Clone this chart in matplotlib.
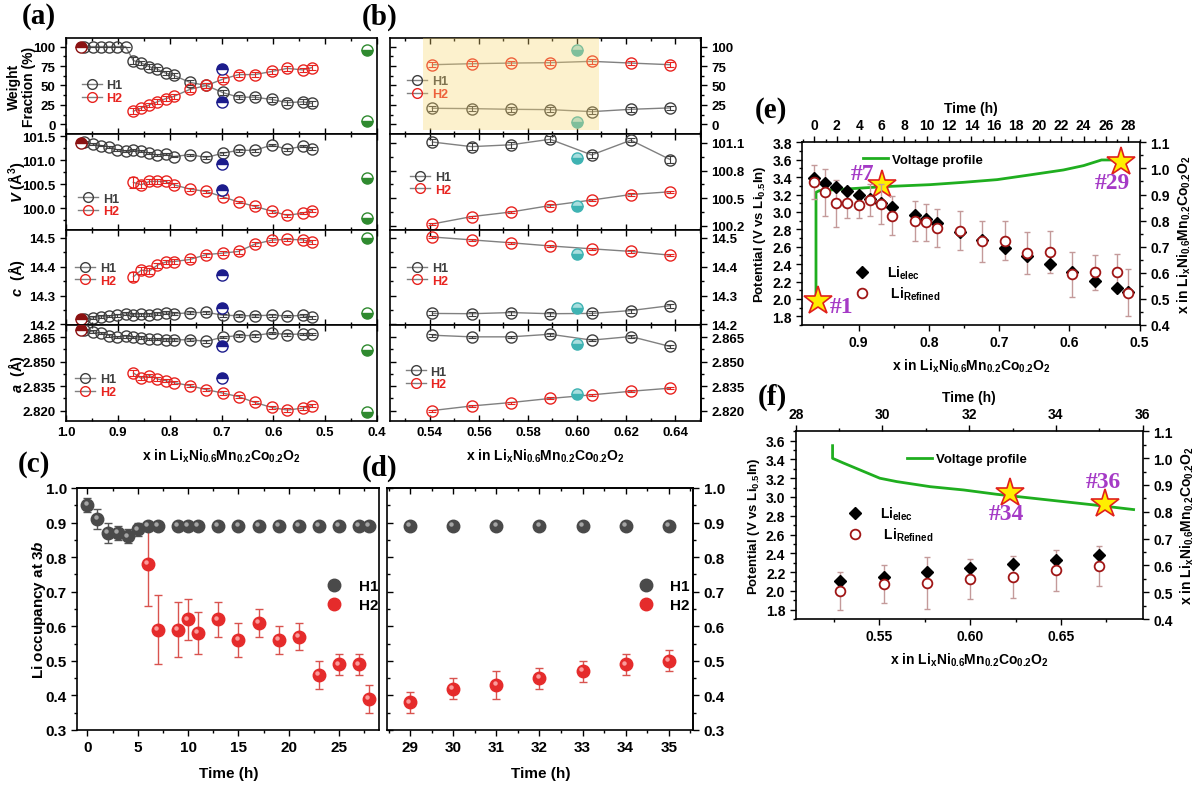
import numpy as np
import matplotlib.pyplot as plt
from matplotlib.ticker import MultipleLocator, FormatStrFormatter, NullFormatter
from matplotlib.transforms import offset_copy
from matplotlib.lines import Line2D

plt.rcParams['font.family'] = 'Liberation Sans'
plt.rcParams['font.weight'] = 'bold'
plt.rcParams['axes.labelweight'] = 'bold'
plt.rcParams['font.size'] = 9.5
plt.rcParams['mathtext.fontset'] = 'custom'
plt.rcParams['mathtext.rm'] = 'Liberation Sans:bold'
plt.rcParams['mathtext.bf'] = 'Liberation Sans:bold'
plt.rcParams['mathtext.it'] = 'Liberation Sans:bold:italic'
plt.rcParams['mathtext.default'] = 'bf'
plt.rcParams['axes.linewidth'] = 1.2

# ---------------- data (a) ----------------
xa = [0.965, 0.948, 0.932, 0.917, 0.901, 0.885, 0.870, 0.855, 0.839, 0.824, 0.808,
      0.792, 0.761, 0.729, 0.698, 0.667, 0.636, 0.603, 0.573, 0.543, 0.526]
xa2 = [0.870, 0.855, 0.839, 0.824, 0.808, 0.792, 0.761, 0.729, 0.698, 0.667, 0.636,
       0.603, 0.573, 0.543, 0.526]

wf_h1 = [100, 100, 100, 100, 100, 100, 82, 79, 74, 71, 66, 63, 54, 50, 41, 35, 35, 32, 28, 29, 27]
wf_h1_err = [0, 0, 0, 0, 0, 0, 4, 3, 3, 3, 3, 3, 3, 3, 3, 3, 3, 3, 3, 3, 3]
wf_h2 = [17, 21, 25, 29, 33, 36, 45, 50, 58, 64, 64, 68, 72, 70, 73]
wf_h2_err = [4, 3, 3, 3, 3, 3, 3, 3, 3, 3, 3, 3, 3, 3, 3]

v_h1 = [101.38, 101.34, 101.31, 101.28, 101.22, 101.19, 101.21, 101.19, 101.15, 101.11, 101.13,
        101.08, 101.12, 101.06, 101.15, 101.21, 101.21, 101.32, 101.23, 101.30, 101.24]
v_h1_err = [0.02, 0.02, 0.02, 0.02, 0.02, 0.02, 0.02, 0.02, 0.02, 0.02, 0.02,
            0.02, 0.02, 0.03, 0.03, 0.03, 0.03, 0.03, 0.03, 0.03, 0.03]
v_h2 = [100.54, 100.49, 100.56, 100.56, 100.56, 100.49, 100.40, 100.35, 100.24, 100.13, 100.04,
        99.94, 99.85, 99.90, 99.95]
v_h2_err = [0.12, 0.07, 0.05, 0.05, 0.04, 0.04, 0.03, 0.03, 0.03, 0.03, 0.03, 0.03, 0.03, 0.03, 0.03]

c_h1 = [14.217, 14.223, 14.227, 14.229, 14.232, 14.237, 14.233, 14.235, 14.233, 14.237, 14.240,
        14.237, 14.240, 14.242, 14.232, 14.230, 14.230, 14.232, 14.229, 14.231, 14.224]
c_h1_err = [0.005] * 21
c_h2 = [14.365, 14.388, 14.385, 14.405, 14.416, 14.418, 14.425, 14.442, 14.447, 14.453, 14.478,
        14.492, 14.495, 14.493, 14.485]
c_h2_err = [0.016, 0.012, 0.009, 0.008, 0.008, 0.008, 0.007, 0.007, 0.007, 0.008, 0.007,
            0.006, 0.006, 0.006, 0.006]

a_h1 = [2.8691, 2.8683, 2.8675, 2.8660, 2.8650, 2.8656, 2.8652, 2.8648, 2.8640, 2.8638, 2.8634,
        2.8634, 2.8634, 2.8625, 2.8650, 2.8660, 2.8660, 2.8675, 2.8666, 2.8670, 2.8670]
a_h1_err = [0.0008] * 21
a_h2 = [2.8431, 2.8398, 2.8415, 2.8394, 2.8384, 2.8372, 2.8353, 2.8329, 2.8308, 2.8286, 2.8251,
        2.8220, 2.8204, 2.8216, 2.8231]
a_h2_err = [0.0018, 0.0012, 0.001, 0.001, 0.001, 0.001, 0.001, 0.001, 0.001, 0.001, 0.001,
            0.001, 0.001, 0.001, 0.001]

# reference points (pristine, 0.70 and 0.42)
x_pristine = 0.971
pristine = [100, 101.36, 14.2196, 2.8691]
x_blue = 0.70
blue = [[71, 29], [100.93, 100.375], [14.371, 14.258], [2.8593, 2.8400]]
x_green = 0.42
green = [[96, 4], [100.625, 99.79], [14.498, 14.238], [2.8574, 2.8194]]

# ---------------- data (b) ----------------
xb = [0.541, 0.557, 0.573, 0.589, 0.606, 0.622, 0.638]
wf_b_h1 = [20.7, 20.3, 19.4, 19.0, 16.4, 19.4, 21.2]
wf_b_h2 = [76.7, 78.0, 78.8, 79.3, 81.0, 78.8, 76.7]
v_b_h1 = [101.11, 101.06, 101.08, 101.14, 100.97, 101.13, 100.92]
v_b_h1_err = [0.035, 0.035, 0.035, 0.035, 0.035, 0.025, 0.035]
v_b_h2 = [100.22, 100.30, 100.35, 100.42, 100.48, 100.54, 100.57]
c_b_h1 = [14.238, 14.237, 14.241, 14.237, 14.238, 14.248, 14.265]
c_b_h2 = [14.503, 14.493, 14.483, 14.472, 14.462, 14.453, 14.440]
a_b_h1 = [2.8662, 2.8652, 2.8652, 2.8668, 2.8632, 2.8654, 2.8593]
a_b_h2 = [2.8201, 2.8229, 2.8250, 2.8275, 2.8297, 2.8319, 2.8338]
x_teal = 0.60
teal = [[96, 3], [100.94, 100.42], [14.445, 14.258], [2.8607, 2.8305]]

# ---------------- data (c), (d) ----------------
tc_h1 = [0, 1, 2, 3, 4, 5, 6, 7, 9, 10, 11, 13, 15, 17, 19, 21, 23, 25, 27, 28]
occ_h1 = [0.95, 0.91, 0.87, 0.87, 0.86, 0.88, 0.89, 0.89, 0.89, 0.89, 0.89, 0.89, 0.89, 0.89,
          0.89, 0.89, 0.89, 0.89, 0.89, 0.89]
occ_h1_err = [0.02, 0.03, 0.03, 0.02, 0.02, 0.02, 0, 0, 0, 0, 0, 0, 0, 0, 0, 0, 0, 0, 0, 0]
tc_h2 = [6, 7, 9, 10, 11, 13, 15, 17, 19, 21, 23, 25, 27, 28]
occ_h2 = [0.78, 0.59, 0.59, 0.62, 0.58, 0.62, 0.56, 0.61, 0.56, 0.57, 0.46, 0.49, 0.49, 0.39]
occ_h2_err = [0.12, 0.10, 0.08, 0.06, 0.06, 0.05, 0.05, 0.04, 0.04, 0.04, 0.04, 0.03, 0.03, 0.04]

td = [29, 30, 31, 32, 33, 34, 35]
occ_d_h1 = [0.89, 0.89, 0.89, 0.89, 0.89, 0.89, 0.89]
occ_d_h2 = [0.38, 0.42, 0.43, 0.45, 0.47, 0.49, 0.50]
occ_d_h2_err = [0.03, 0.03, 0.04, 0.03, 0.03, 0.03, 0.03]

# ---------------- data (e) ----------------
xe = [0.964, 0.948, 0.932, 0.916, 0.900, 0.884, 0.868, 0.852, 0.820, 0.804, 0.788, 0.756,
      0.724, 0.692, 0.660, 0.628, 0.596, 0.564, 0.532, 0.516]
li_elec_e = [0.962, 0.944, 0.929, 0.914, 0.898, 0.883, 0.868, 0.852, 0.822, 0.806, 0.790, 0.758,
             0.727, 0.694, 0.663, 0.634, 0.602, 0.570, 0.541, 0.525]
li_ref_e = [0.949, 0.908, 0.867, 0.867, 0.859, 0.879, 0.865, 0.819, 0.799, 0.793, 0.770, 0.762,
            0.721, 0.723, 0.675, 0.681, 0.594, 0.602, 0.604, 0.523]
li_ref_e_err = [0.065, 0.09, 0.09, 0.056, 0.05, 0.06, 0.077, 0.074, 0.077, 0.07, 0.073, 0.074,
                0.079, 0.075, 0.08, 0.08, 0.087, 0.066, 0.069, 0.09]
volt_t_e = [0.15, 0.15, 0.45, 6.15, 10.3, 13.3, 16.3, 19.2, 22.2, 24.0, 25.6, 27.3]
volt_v_e = [1.96, 3.225, 3.244, 3.29, 3.313, 3.34, 3.371, 3.425, 3.482, 3.532, 3.597, 3.597]
star_t_e = [0.3, 6.06, 27.3]
star_v_e = [1.98, 3.31, 3.57]
star_lab_e = ['#1', '#7', '#29']

# ---------------- data (f) ----------------
xf = [0.5286, 0.5524, 0.5762, 0.5999, 0.6238, 0.6473, 0.6707]
li_elec_f = [0.540, 0.557, 0.5735, 0.589, 0.604, 0.620, 0.637]
li_ref_f = [0.505, 0.531, 0.536, 0.548, 0.557, 0.581, 0.597]
li_ref_f_err = [0.072, 0.072, 0.097, 0.075, 0.077, 0.075, 0.075]
volt_t_f = [28.85, 28.85, 29.10, 29.94, 30.33, 31.10, 31.87, 32.63, 33.40, 34.17, 34.94, 35.79]
volt_v_f = [3.547, 3.412, 3.362, 3.20, 3.164, 3.11, 3.075, 3.029, 2.99, 2.951, 2.912, 2.866]
star_t_f = [32.94, 35.12]
star_v_f = [3.043, 2.93]
star_lab_f = ['#34', '#36']

# ---------------- styles ----------------
C_H1 = '#3f3f3f'
C_H2 = '#e8231f'
C_LINE = '#808080'
C_GREEN = '#1fae1f'
C_PURPLE = '#a53ac6'
XLAB = r'x in Li$_x$Ni$_{0.6}$Mn$_{0.2}$Co$_{0.2}$O$_2$'

fig = plt.figure(figsize=(12, 8.04), dpi=100)


def rect(x0, x1, y0, y1):
    return [x0 / 1200, 1 - y1 / 804, (x1 - x0) / 1200, (y1 - y0) / 804]


def phase_row(ax, x1, y1, e1, x2, y2, e2):
    ax.plot(x1, y1, '-', color=C_LINE, lw=1, zorder=2)
    ax.plot(x2, y2, '-', color=C_LINE, lw=1, zorder=2)
    ax.errorbar(x1, y1, yerr=e1, fmt='none', ecolor=C_H1, elinewidth=0.8, capsize=3,
                capthick=0.8, zorder=3)
    ax.errorbar(x2, y2, yerr=e2, fmt='none', ecolor=C_H2, elinewidth=0.8, capsize=3,
                capthick=0.8, zorder=3)
    ax.plot(x1, y1, 'o', ms=8, mfc='none', mec=C_H1, mew=1.0, zorder=4)
    ax.plot(x2, y2, 'o', ms=8, mfc='none', mec=C_H2, mew=1.0, zorder=4)


def half(ax, x, ys, col, style):
    for y in ys:
        ax.plot(x, y, 'o', ms=8, fillstyle=style, mfc=col, mec=col, mfcalt='white', mew=1.0,
                zorder=5)


def phase_legend(ax, xa_, ya_):
    hs = [Line2D([], [], color=C_LINE, lw=1, marker='o', ms=7, mfc='none', mec=C_H1),
          Line2D([], [], color=C_LINE, lw=1, marker='o', ms=7, mfc='none', mec=C_H2)]
    lg = ax.legend(hs, ['H1', 'H2'], loc='center left', bbox_to_anchor=(xa_, ya_), frameon=False,
                   handlelength=1.6, handletextpad=0.4, labelspacing=0.05, fontsize=9,
                   borderpad=0, borderaxespad=0)
    lg.get_texts()[0].set_color(C_H1)
    lg.get_texts()[1].set_color(C_H2)


ylims = [(-12, 111), (99.556, 101.556), (14.197, 14.529), (2.8137, 2.8723)]
ylims_b = [(-12, 111), (100.16, 101.2), (14.197, 14.529), (2.8137, 2.8723)]
ymaj = [25, 0.5, 0.1, 0.015]
ymaj_b = [25, 0.3, 0.1, 0.015]
yfmt = ['%d', '%.1f', '%.1f', '%.3f']
ylabels = ['Weight\nFraction (%)', r'$\mathit{V}$ (Å$^3$)', r'$\mathit{c}$  (Å)', r'$\mathit{a}$  (Å)']
ylab_x = [-0.096, -0.125, -0.125, -0.125]
leg_a = [(0.05, 0.44), (0.04, 0.255), (0.03, 0.53), (0.03, 0.37)]
leg_b = [(0.055, 0.48), (0.065, 0.48), (0.055, 0.53), (0.05, 0.45)]

data_a = [(wf_h1, wf_h1_err, wf_h2, wf_h2_err), (v_h1, v_h1_err, v_h2, v_h2_err),
          (c_h1, c_h1_err, c_h2, c_h2_err), (a_h1, a_h1_err, a_h2, a_h2_err)]
data_b = [(wf_b_h1, 3, wf_b_h2, 3), (v_b_h1, v_b_h1_err, v_b_h2, 0.012),
          (c_b_h1, 0.007, c_b_h2, 0.004), (a_b_h1, 0.0008, a_b_h2, 0.0006)]

top, rh = 39, 95.75
for i in range(4):
    # ---- (a) ----
    ax = fig.add_axes(rect(66, 377, top + i * rh, top + (i + 1) * rh))
    h1, e1, h2, e2 = data_a[i]
    phase_row(ax, xa, h1, e1, xa2, h2, e2)
    ax.plot(x_pristine, pristine[i], 'o', ms=8, fillstyle='top', mfc='#8b1212', mec='#8b1212',
            mfcalt='white', zorder=5)
    half(ax, x_blue, blue[i], '#1c1c8c', 'top')
    half(ax, x_green, green[i], '#2f8a2f', 'bottom')
    ax.set_xlim(1.0, 0.4)
    ax.set_ylim(*ylims[i])
    ax.xaxis.set_major_locator(MultipleLocator(0.1))
    ax.xaxis.set_minor_locator(MultipleLocator(0.05))
    ax.yaxis.set_major_locator(MultipleLocator(ymaj[i]))
    ax.yaxis.set_minor_locator(MultipleLocator(ymaj[i] / 2))
    ax.yaxis.set_major_formatter(FormatStrFormatter(yfmt[i]))
    ax.tick_params(axis='x', which='both', direction='in', top=True, bottom=True,
                   labelbottom=(i == 3))
    ax.tick_params(axis='y', which='both', direction='out', right=False)
    ax.tick_params(which='major', length=4, width=1, labelsize=9.5)
    ax.tick_params(which='minor', length=2.5, width=1)
    ax.set_ylabel(ylabels[i], fontsize=10 if i == 0 else 10.5, labelpad=2, linespacing=1.1)
    ax.yaxis.set_label_coords(ylab_x[i], 0.5)
    phase_legend(ax, *leg_a[i])
    if i == 3:
        ax.xaxis.set_major_formatter(FormatStrFormatter('%.1f'))
        ax.set_xlabel(XLAB, fontsize=10, labelpad=6)

    # ---- (b) ----
    bx = fig.add_axes(rect(390, 701, top + i * rh, top + (i + 1) * rh))
    h1, e1, h2, e2 = data_b[i]
    phase_row(bx, xb, h1, e1, xb, h2, e2)
    for y in teal[i]:
        bx.plot(x_teal, y, 'o', ms=8, fillstyle='bottom', mfc='#3fb3b3', mec='#3fb3b3',
                mfcalt='#a8dede', zorder=5)
    bx.set_xlim(0.5237, 0.6506)
    bx.set_ylim(*ylims_b[i])
    bx.xaxis.set_major_locator(MultipleLocator(0.02))
    bx.xaxis.set_minor_locator(MultipleLocator(0.01))
    bx.yaxis.set_major_locator(MultipleLocator(ymaj_b[i]))
    bx.yaxis.set_minor_locator(MultipleLocator(ymaj_b[i] / 2))
    bx.tick_params(axis='x', which='both', direction='in', top=True, bottom=True,
                   labelbottom=(i == 3))
    bx.tick_params(axis='y', which='both', direction='in', left=True, labelleft=False,
                   labelright=False)
    bx.tick_params(which='major', length=4, width=1, labelsize=9.5)
    bx.tick_params(which='minor', length=2.5, width=1)
    sec = bx.secondary_yaxis('right')
    sec.yaxis.set_major_locator(MultipleLocator(ymaj_b[i]))
    sec.yaxis.set_minor_locator(MultipleLocator(ymaj_b[i] / 2))
    sec.yaxis.set_major_formatter(FormatStrFormatter(yfmt[i]))
    sec.yaxis.set_minor_formatter(NullFormatter())
    sec.tick_params(which='both', direction='out', width=1, labelsize=9.5)
    sec.tick_params(which='major', length=4)
    sec.tick_params(which='minor', length=2.5)
    phase_legend(bx, *leg_b[i])
    if i == 0:
        bx.axvspan(0.537, 0.609, ymin=0.04, ymax=1, color='#f8d770', alpha=0.35, lw=0, zorder=10)
    if i == 3:
        bx.xaxis.set_major_formatter(FormatStrFormatter('%.2f'))
        bx.set_xlabel(XLAB, fontsize=10, labelpad=6)


def spheres(ax, t, y, base, light, label):
    ax.plot(t, y, 'o', ms=9, mfc=base, mec=base, zorder=4, label=label)
    tr = offset_copy(ax.transData, fig=fig, x=-1.3, y=1.3, units='points')
    ax.plot(t, y, 'o', ms=3.2, mfc=light, mec='none', alpha=0.85, transform=tr, zorder=5)


# ---------------- (c) ----------------
cx = fig.add_axes(rect(77.3, 379.3, 489, 731))
cx.errorbar(tc_h1, occ_h1, yerr=occ_h1_err, fmt='none', ecolor='#555555', elinewidth=1,
            capsize=3, capthick=1, zorder=3)
cx.errorbar(tc_h2, occ_h2, yerr=occ_h2_err, fmt='none', ecolor='#d9534f', elinewidth=1,
            capsize=3, capthick=1, zorder=3)
spheres(cx, tc_h1, occ_h1, '#4a4a4a', '#b5b5b5', 'H1')
spheres(cx, tc_h2, occ_h2, '#e52b2b', '#ffb0b0', 'H2')
cx.set_xlim(-1, 29)
cx.set_ylim(0.3, 1.0)
cx.xaxis.set_major_locator(MultipleLocator(5))
cx.xaxis.set_minor_locator(MultipleLocator(2.5))
cx.yaxis.set_major_locator(MultipleLocator(0.1))
cx.yaxis.set_minor_locator(MultipleLocator(0.05))
cx.yaxis.set_major_formatter(FormatStrFormatter('%.1f'))
cx.tick_params(which='both', direction='out', right=False, top=False, width=1, labelsize=11)
cx.tick_params(which='major', length=4)
cx.tick_params(which='minor', length=2.5)
st = cx.secondary_xaxis('top')
st.xaxis.set_major_locator(MultipleLocator(5))
st.xaxis.set_minor_locator(MultipleLocator(2.5))
st.tick_params(which='both', direction='in', labeltop=False, width=1)
st.tick_params(which='major', length=4)
st.tick_params(which='minor', length=2.5)
cx.set_xlabel('Time (h)', fontsize=11, labelpad=8)
cx.set_ylabel(r'Li occupancy at 3$\mathit{b}$', fontsize=11)
cx.yaxis.set_label_coords(-0.097, 0.5)
cx.legend(loc='center left', bbox_to_anchor=(0.8, 0.555), frameon=False, handletextpad=0.6,
          labelspacing=0.3, fontsize=11, borderpad=0, borderaxespad=0)

# ---------------- (d) ----------------
dx = fig.add_axes(rect(387.3, 693.3, 489, 731))
dx.errorbar(td, occ_d_h2, yerr=occ_d_h2_err, fmt='none', ecolor='#d9534f', elinewidth=1,
            capsize=3, capthick=1, zorder=3)
spheres(dx, td, occ_d_h1, '#4a4a4a', '#b5b5b5', 'H1')
spheres(dx, td, occ_d_h2, '#e52b2b', '#ffb0b0', 'H2')
dx.set_xlim(28.47, 35.57)
dx.set_ylim(0.3, 1.0)
dx.xaxis.set_major_locator(MultipleLocator(1))
dx.xaxis.set_minor_locator(MultipleLocator(0.5))
dx.yaxis.set_major_locator(MultipleLocator(0.1))
dx.yaxis.set_minor_locator(MultipleLocator(0.05))
dx.tick_params(which='both', direction='out', top=False, width=1, labelsize=11)
dx.tick_params(axis='y', which='both', direction='in', labelleft=False)
dx.tick_params(which='major', length=4)
dx.tick_params(which='minor', length=2.5)
sdt = dx.secondary_xaxis('top')
sdt.xaxis.set_major_locator(MultipleLocator(1))
sdt.xaxis.set_minor_locator(MultipleLocator(0.5))
sdt.tick_params(which='both', direction='in', labeltop=False, width=1)
sdt.tick_params(which='major', length=4)
sdt.tick_params(which='minor', length=2.5)
sdr = dx.secondary_yaxis('right')
sdr.yaxis.set_major_locator(MultipleLocator(0.1))
sdr.yaxis.set_minor_locator(MultipleLocator(0.05))
sdr.yaxis.set_major_formatter(FormatStrFormatter('%.1f'))
sdr.yaxis.set_minor_formatter(NullFormatter())
sdr.tick_params(which='both', direction='out', width=1, labelsize=11)
sdr.tick_params(which='major', length=4)
sdr.tick_params(which='minor', length=2.5)
dx.set_xlabel('Time (h)', fontsize=11, labelpad=8)
dx.legend(loc='center left', bbox_to_anchor=(0.795, 0.555), frameon=False, handletextpad=0.6,
          labelspacing=0.3, fontsize=11, borderpad=0, borderaxespad=0)


# ---------------- (e), (f) ----------------
def echem_panel(r, tlim, vlim, xlim, tmaj, vmaj, xmaj, xfmt, vt, vv, stt, stv,
                xs, elec, ref, ref_err, vleg, lileg):
    av = fig.add_axes(r, label='v' + str(tlim))
    ac = fig.add_axes(r, label='x' + str(tlim), frameon=False)
    av.plot(vt, vv, '-', color=C_GREEN, lw=2, zorder=2, label='Voltage profile')
    av.plot(stt, stv, '*', ms=21, mfc='#ffee00', mec='#e0201c', mew=1.2, ls='none', zorder=8)
    av.set_xlim(*tlim)
    av.set_ylim(*vlim)
    av.xaxis.tick_top()
    av.xaxis.set_label_position('top')
    av.xaxis.set_major_locator(MultipleLocator(tmaj))
    av.xaxis.set_minor_locator(MultipleLocator(tmaj / 2))
    av.yaxis.set_major_locator(MultipleLocator(vmaj))
    av.yaxis.set_minor_locator(MultipleLocator(vmaj / 2))
    av.yaxis.set_major_formatter(FormatStrFormatter('%.1f'))
    av.tick_params(which='both', direction='out', width=1, right=False, bottom=False,
                   labelsize=10)
    av.tick_params(which='major', length=4)
    av.tick_params(which='minor', length=2.5)
    av.set_xlabel('Time (h)', fontsize=10, labelpad=4)
    av.set_ylabel(r'Potential (V vs Li$_{0.5}$In)', fontsize=9.5, labelpad=3)
    av.legend(loc='center left', bbox_to_anchor=vleg, frameon=False, handlelength=1.9,
              handletextpad=0.3, fontsize=9.5, borderpad=0, borderaxespad=0)

    ac.errorbar(xs, ref, yerr=ref_err, fmt='none', ecolor='#c49a9a', elinewidth=1, capsize=2.5,
                capthick=1, zorder=3)
    ac.plot(xs, elec, 'D', ms=6, color='black', ls='none', zorder=4, label=r'Li$_{elec}$')
    ac.plot(xs, ref, 'o', ms=7, mfc='white', mec='#a01616', mew=1.3, ls='none', zorder=5,
            label=r' Li$_{Refined}$')
    ac.set_xlim(*xlim)
    ac.set_ylim(0.4, 1.1)
    ac.xaxis.tick_bottom()
    ac.yaxis.tick_right()
    ac.yaxis.set_label_position('right')
    ac.xaxis.set_major_locator(MultipleLocator(xmaj))
    ac.xaxis.set_minor_locator(MultipleLocator(xmaj / 2))
    ac.xaxis.set_major_formatter(FormatStrFormatter(xfmt))
    ac.yaxis.set_major_locator(MultipleLocator(0.1))
    ac.yaxis.set_minor_locator(MultipleLocator(0.05))
    ac.yaxis.set_major_formatter(FormatStrFormatter('%.1f'))
    ac.tick_params(which='both', direction='out', width=1, labelsize=10)
    ac.tick_params(which='major', length=4)
    ac.tick_params(which='minor', length=2.5)
    ac.set_xlabel(XLAB, fontsize=10, labelpad=5)
    ac.set_ylabel(XLAB, fontsize=10, labelpad=4)
    ac.legend(loc='center left', bbox_to_anchor=lileg, frameon=False, handletextpad=0.8,
              labelspacing=0.25, fontsize=10, borderpad=0, borderaxespad=0)
    return av


ave = echem_panel(rect(802.3, 1139.7, 143.3, 326), (-1.07, 29.0), (1.7, 3.8), (0.98, 0.5),
                  2, 0.2, 0.1, '%.1f', volt_t_e, volt_v_e, star_t_e, star_v_e,
                  xe, li_elec_e, li_ref_e, li_ref_e_err, (0.18, 0.905), (0.135, 0.23))
lab_pos_e = [(2.4, 1.91), (4.3, 3.44), (26.6, 3.34)]
for s, (tt, vv) in zip(star_lab_e, lab_pos_e):
    ave.text(tt, vv, s, fontfamily='Liberation Serif', fontweight='bold', fontsize=17,
             color=C_PURPLE, ha='center', va='center', zorder=9)

avf = echem_panel(rect(795.7, 1142.7, 432.3, 620), (28, 36), (1.7, 3.7), (0.504, 0.695),
                  2, 0.2, 0.05, '%.2f', volt_t_f, volt_v_f, star_t_f, star_v_f,
                  xf, li_elec_f, li_ref_f, li_ref_f_err, (0.32, 0.852), (0.13, 0.506))
lab_pos_f = [(32.86, 2.82), (35.09, 3.16)]
for s, (tt, vv) in zip(star_lab_f, lab_pos_f):
    avf.text(tt, vv, s, fontfamily='Liberation Serif', fontweight='bold', fontsize=17,
             color=C_PURPLE, ha='center', va='center', zorder=9)

# panel letters
for s, px, py in [('(a)', 22, 17), ('(b)', 362, 17), ('(c)', 18, 465), ('(d)', 362, 468),
                  ('(e)', 755, 110), ('(f)', 758, 397)]:
    fig.text(px / 1200, 1 - py / 804, s, fontfamily='Liberation Serif', fontweight='bold',
             fontsize=21, va='center', ha='left')

fig.savefig('out.png', dpi=100)
